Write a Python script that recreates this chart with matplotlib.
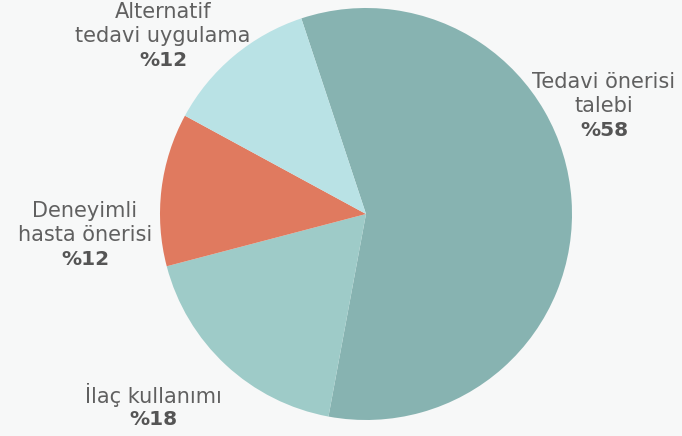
import matplotlib
matplotlib.use("Agg")
import matplotlib.pyplot as plt

# data
labels = ["Tedavi önerisi\ntalebi", "İlaç kullanımı", "Deneyimli\nhasta önerisi", "Alternatif\ntedavi uygulama"]
values = [58, 18, 12, 12]
colors = ["#87b3b1", "#9ecbc8", "#e07a5f", "#b9e2e5"]

# label anchor (pixel, from top) positions, centre of text block
label_pos = [(604, 106), (153, 407), (85, 235), (163, 36)]

W, H = 682, 436
bg = "#f7f8f8"
fig = plt.figure(figsize=(W / 100, H / 100), dpi=100, facecolor=bg)
ax = fig.add_axes([0, 0, 1, 1])
ax.set_facecolor(bg)

ax.pie(values, colors=colors, startangle=108.3, counterclock=False,
       center=(366, H - 214), radius=206, frame=True,
       wedgeprops=dict(linewidth=0))
ax.set_xlim(0, W)
ax.set_ylim(0, H)
ax.set_aspect("equal")
ax.axis("off")

step = 24.5
for lab, v, (x, y) in zip(labels, values, label_pos):
    lines = lab.split("\n")
    top = y - len(lines) * step / 2
    for i, line in enumerate(lines):
        ax.text(x, H - (top + i * step), line, ha="center", va="center",
                fontsize=15, color="#606060")
    ax.text(x, H - (top + len(lines) * step), f"%{v}", ha="center", va="center",
            fontsize=14.5, color="#555555", fontweight="bold")

fig.savefig("out.png", dpi=100, facecolor=bg)
